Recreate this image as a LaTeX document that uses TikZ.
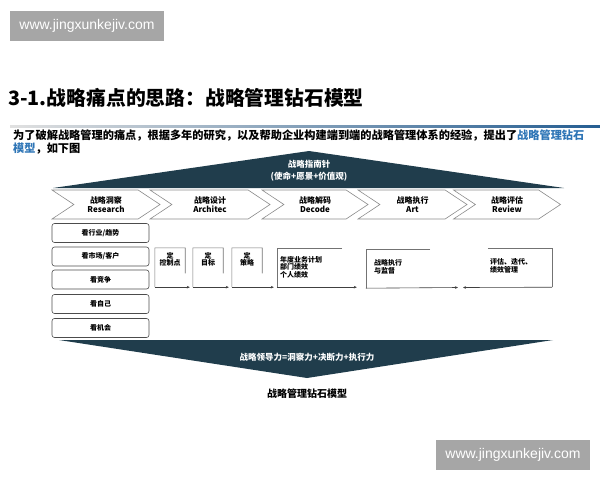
\documentclass[tikz,border=0pt]{standalone}
\usepackage{fontspec}
\setmainfont{Noto Sans CJK SC}
\newfontfamily\wmfont{Liberation Sans}
\usetikzlibrary{shapes.symbols,arrows.meta,calc}
\definecolor{diamond}{HTML}{203D4C}
\definecolor{linkblue}{HTML}{2E75B6}
\definecolor{wmgray}{HTML}{A6A6A6}
\begin{document}
\begin{tikzpicture}[x=1pt,y=-1pt,
  stage/.style={signal,signal to=east,signal from=west,signal pointer angle=67,draw=black!45,fill=white,line width=0.6pt,minimum height=29pt,inner sep=0pt,align=center,font=\bfseries\fontsize{8}{9.5}\selectfont},
  look/.style={draw=black!70,rounded corners=2.5pt,line width=0.6pt,minimum width=97pt,minimum height=19pt,inner sep=0pt,font=\bfseries\fontsize{7}{8}\selectfont},
  stepframe/.style={draw=black!55,line width=0.6pt},
  flow/.style={draw=black!75,line width=0.6pt,-{Stealth[length=3pt,width=2.6pt]}},
  boxtext/.style={inner sep=0pt,font=\bfseries\fontsize{7}{7.5}\selectfont},
  wm/.style={fill=wmgray,text=white,minimum width=154pt,minimum height=30pt,inner sep=0pt,font=\wmfont\fontsize{14}{15}\selectfont}]
\useasboundingbox (0,0) rectangle (600,480);
% watermarks
\node[wm] (wmtop) at (87,26) {www.jingxunkejiv.com};
\node[wm] (wmbot) at (513,455) {www.jingxunkejiv.com};
% heading
\node[anchor=west,inner sep=0pt,font=\bfseries\fontsize{19.8}{22}\selectfont] (title) at (8,98) {3-1.战略痛点的思路：战略管理钻石模型};
\shade[left color=black!12,right color=linkblue!80!black] (10,125.5) rectangle (600,127.5);
\begin{scope}[every node/.style={anchor=west,inner sep=0pt,font=\bfseries\fontsize{11.2}{13}\selectfont}]
\node (intro1) at (13,135.5) {为了破解战略管理的痛点，根据多年的研究，以及帮助企业构建端到端的战略管理体系的经验，提出了\textcolor{linkblue}{战略管理钻石}};
\node (intro2) at (13,148.5) {\textcolor{linkblue}{模型}，如下图};
\end{scope}
% diamond top and bottom
\fill[diamond] (53,188) -- (309,151) -- (564,188) -- cycle;
\fill[diamond] (59,340) -- (553,340) -- (307,378) -- cycle;
\begin{scope}[every node/.style={text=white,inner sep=0pt,font=\bfseries\fontsize{8.5}{10}\selectfont}]
\node (guide) at (309,164) {战略指南针};
\node (mission) at (309,177) {(使命+愿景+价值观)};
\node (lead) at (307,357) {战略领导力=洞察力+决断力+执行力};
\end{scope}
\node[font=\bfseries\fontsize{10}{12}\selectfont] (caption) at (307,394) {战略管理钻石模型};
% stages
\node[stage,minimum width=108pt] (s1) at (106,204.5) {战略洞察\\Research};%1
\node[stage,minimum width=120pt] (s2) at (210,204.5) {战略设计\\Architec};%2
\node[stage,minimum width=106pt] (s3) at (315,204.5) {战略解码\\Decode};%3
\node[stage,minimum width=109pt] (s4) at (412.5,204.5) {战略执行\\Art};%4
\node[stage,minimum width=107pt] (s5) at (507,204.5) {战略评估\\Review};%5
% research column
\node[look] (l1) at (100.5,233) {看行业/趋势};
\node[look] (l2) at (100.5,256.5) {看市场/客户};
\node[look] (l3) at (100.5,279.5) {看竞争};
\node[look] (l4) at (100.5,304) {看自己};
\node[look] (l5) at (100.5,328) {看机会};
% steps
\begin{scope}[every node/.style={inner sep=0pt,minimum height=39pt}]
\node[minimum width=30pt] (b1) at (170,267.5) {};
\node[minimum width=30pt] (b2) at (208,267.5) {};
\node[minimum width=30pt] (b3) at (247,267.5) {};
\node[minimum width=65pt] (b4) at (309.5,267.5) {};
\node[minimum width=64pt] (b5) at (398,268.5) {};
\node[minimum width=64pt] (b6) at (520,267.5) {};
\end{scope}
\coordinate (meet) at (460.5,287.5);
\node[boxtext,anchor=north,align=center] at ([yshift=-4pt]b1.north) {定\\控制点};
\node[boxtext,anchor=north,align=center] at ([yshift=-4pt]b2.north) {定\\目标};
\node[boxtext,anchor=north,align=center] at ([yshift=-4pt]b3.north) {定\\策略};
\node[boxtext,anchor=north west,align=left] at ([xshift=3pt,yshift=-8pt]b4.north west) {年度业务计划\\部门绩效\\个人绩效};
\node[boxtext,anchor=north west,align=left] at ([xshift=8pt,yshift=-11pt]b5.north west) {战略执行\\与监督};
\node[boxtext,anchor=north west,align=left] at ([xshift=2pt,yshift=-11pt]b6.north west) {评估、迭代、\\绩效管理};
\foreach \a/\b in {b1/b2,b2/b3,b3/b4}{
  \draw[stepframe] ($(\a.north east)!0.65!(\a.south east)$) -- (\a.north east) -- (\a.north west) -- (\a.south west);
  \draw[flow] (\a.south west) -- ([xshift=-3pt]\b.south west);
}
\draw[stepframe] (b4.north east) -- (b4.north west) -- (b4.south west);
\draw[flow] (b4.south west) -- ([xshift=-9pt,yshift=1pt]b5.south west);
\draw[stepframe] (b5.north east) -- (b5.north west) -- (b5.south west);
\draw[flow] (b5.south west) -- ([xshift=-2.5pt]meet);
\draw[stepframe] (b6.north west) -- (b6.north east) -- (b6.south east);
\draw[flow] (b6.south east) -- ([xshift=2.5pt]meet);
\end{tikzpicture}
\end{document}
